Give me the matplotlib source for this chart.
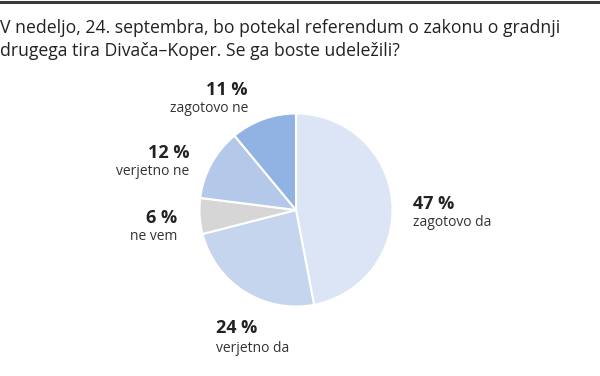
import matplotlib
matplotlib.use("Agg")
import matplotlib.pyplot as plt
from matplotlib.lines import Line2D

title_lines = ["V nedeljo, 24. septembra, bo potekal referendum o zakonu o gradnji",
               "drugega tira Divača–Koper. Se ga boste udeležili?"]
categories = ["zagotovo da", "verjetno da", "ne vem", "verjetno ne", "zagotovo ne"]
values = [47, 24, 6, 12, 11]
colors = ["#dbe5f5", "#c6d5ee", "#d6d6d6", "#b4c8ea", "#91b3e3"]

W, H = 600, 376
fig = plt.figure(figsize=(W / 100, H / 100), dpi=100)
fig.patch.set_facecolor("white")

# top border line
fig.add_artist(Line2D([0, 1], [1 - 1.5 / H, 1 - 1.5 / H], transform=fig.transFigure,
                      color="#3a3a3a", linewidth=2.2))

font = "Open Sans"
fig.text(0 / W, 1 - 28 / H, title_lines[0], fontsize=12.7, family=font, color="#222222",
         va="center", ha="left")
fig.text(0 / W, 1 - 51 / H, title_lines[1], fontsize=12.7, family=font, color="#222222",
         va="center", ha="left")

cx, cy, r = 296, 210, 97.5
ax = fig.add_axes([(cx - r) / W, (H - cy - r) / H, 2 * r / W, 2 * r / H])
ax.pie(values, colors=colors, startangle=90, counterclock=False, radius=1,
       wedgeprops=dict(edgecolor="white", linewidth=1.5))
ax.set_xlim(-1.01, 1.01)
ax.set_ylim(-1.01, 1.01)
ax.set_aspect("equal")
ax.axis("off")

# label positions (pixel) : (x, y_pct, y_lbl, ha)
label_pos = {
    "zagotovo da": (413, 204, 223, "left"),
    "verjetno da": (216, 328, 348, "left"),
    "ne vem": (177, 218, 237, "right"),
    "verjetno ne": (189, 153, 172, "right"),
    "zagotovo ne": (248, 90, 109, "right"),
}
for cat, val in zip(categories, values):
    x, yp, yl, ha = label_pos[cat]
    fig.text(x / W, 1 - yp / H, f"{val} %", fontsize=13, fontweight="bold",
             family=font, color="#222222", ha=ha, va="center")
    fig.text(x / W, 1 - yl / H, cat, fontsize=10, family=font, color="#333333",
             ha=ha, va="center")

fig.savefig("out.png", dpi=100, facecolor="white")
